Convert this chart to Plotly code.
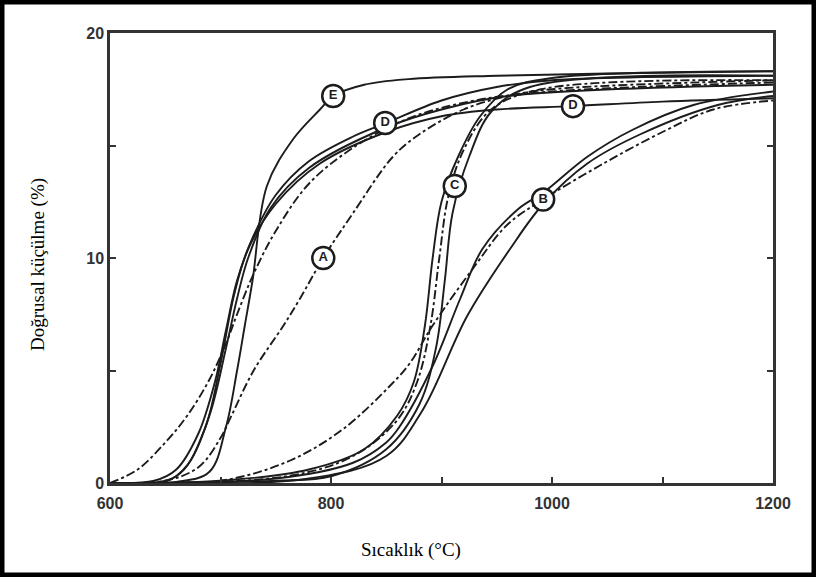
import plotly.graph_objects as go

# ---- data (temperature °C, linear shrinkage %) ----
E_T = [600, 660, 690, 705, 715, 722, 729, 742, 766, 790, 802, 830, 870, 950, 1050, 1200]
E_y = [0, 0.05, 0.5, 2.5, 5.0, 7.0, 9.0, 13.2, 15.3, 16.6, 17.2, 17.7, 17.95, 18.1, 18.2, 18.3]

D1_T = [600, 640, 660, 680, 695, 705, 715, 730, 750, 780, 820, 850, 900, 950, 1000, 1200]
D1_y = [0, 0.1, 0.6, 2.2, 4.5, 6.8, 9.0, 11.0, 12.8, 14.3, 15.4, 16.0, 17.0, 17.6, 17.9, 18.1]
D2_T = [600, 650, 670, 690, 705, 715, 725, 745, 780, 850, 900, 960, 1200]
D2_y = [0, 0.05, 0.8, 3.0, 6.0, 8.2, 10.0, 12.2, 14.0, 15.8, 16.6, 17.2, 17.7]
D3_T = [600, 660, 685, 700, 712, 725, 750, 790, 850, 900, 950, 1019, 1100, 1200]
D3_y = [0, 0.3, 2.3, 5.3, 8.3, 10.4, 12.4, 14.2, 15.6, 16.3, 16.6, 16.75, 16.95, 17.1]

A0_T = [600, 625, 650, 670, 690, 705, 715, 730, 750, 780, 820, 870, 930, 1000, 1200]
A0_y = [0, 0.6, 1.8, 3.0, 4.6, 6.2, 7.5, 9.3, 11.2, 13.3, 14.9, 16.2, 17.0, 17.4, 17.8]
A_T = [600, 650, 680, 700, 710, 730, 757, 772, 793, 820, 856, 880, 920, 960, 1000, 1200]
A_y = [0, 0.1, 0.7, 2.0, 3.0, 5.0, 7.0, 8.2, 10.0, 12.0, 14.5, 15.5, 16.6, 17.2, 17.5, 17.9]

C1_T = [600, 700, 780, 830, 860, 875, 885, 892, 900, 915, 935, 960, 1000, 1200]
C1_y = [0, 0.1, 0.6, 1.5, 3.0, 4.5, 7.0, 10.0, 12.5, 14.5, 16.3, 17.5, 18.0, 18.3]
C2_T = [600, 750, 800, 850, 880, 895, 903, 910, 925, 945, 980, 1200]
C2_y = [0, 0.1, 0.3, 1.5, 3.5, 6.0, 9.0, 12.0, 14.5, 16.5, 17.6, 18.1]
C3_T = [600, 760, 820, 860, 878, 890, 898, 906, 920, 945, 990, 1200]
C3_y = [0, 0.3, 1.2, 2.8, 4.5, 7.0, 10.0, 12.7, 14.8, 16.6, 17.5, 17.9]

B1_T = [600, 750, 820, 850, 862, 892, 917, 937, 970, 992, 1032, 1073, 1128, 1200]
B1_y = [0, 0.2, 0.9, 1.8, 2.5, 5.2, 8.2, 10.4, 12.2, 12.9, 14.5, 15.7, 16.8, 17.4]
B2_T = [600, 780, 850, 883, 923, 962, 992, 1032, 1080, 1150, 1200]
B2_y = [0, 0.2, 1.2, 3.25, 7.4, 10.4, 12.4, 14.2, 15.5, 16.8, 17.2]
B3_T = [600, 700, 763, 811, 853, 871, 892, 928, 960, 992, 1043, 1100, 1146, 1200]
B3_y = [0, 0.1, 1.0, 2.4, 4.3, 5.3, 7.0, 9.5, 11.5, 12.6, 14.1, 15.6, 16.6, 17.0]

label_text = ["E", "D", "A", "C", "B", "D"]
label_T = [802, 849, 793, 912, 992, 1019]
label_y = [17.2, 16.0, 10.0, 13.2, 12.6, 16.75]

x_tickvals = [600, 700, 800, 900, 1000, 1100, 1200]
x_ticktext = ["600", "", "800", "", "1000", "", "1200"]
y_tickvals = [0, 5, 10, 15, 20]
y_ticktext = ["0", "", "10", "", "20"]

INK = "#1c1c1c"
DASH = "9px,3px,3px,3px"

curves = [
    (E_T, E_y, "solid"), (D1_T, D1_y, "solid"), (D2_T, D2_y, "solid"),
    (D3_T, D3_y, "solid"), (A0_T, A0_y, DASH), (A_T, A_y, DASH),
    (C1_T, C1_y, "solid"), (C2_T, C2_y, "solid"), (C3_T, C3_y, DASH),
    (B1_T, B1_y, "solid"), (B2_T, B2_y, "solid"), (B3_T, B3_y, DASH),
]

fig = go.Figure()
for xs, ys, dash in curves:
    fig.add_trace(go.Scatter(
        x=xs, y=ys, mode="lines",
        line=dict(color=INK, width=1.9, dash=dash, shape="spline", smoothing=1.0),
        showlegend=False, hoverinfo="skip"))

fig.add_trace(go.Scatter(
    x=label_T, y=label_y, mode="markers+text", text=label_text,
    textposition="middle center",
    textfont=dict(family="Liberation Sans", size=13, color=INK, weight="bold"),
    marker=dict(symbol="circle", size=22, color="white",
                line=dict(color=INK, width=2.5)),
    showlegend=False, hoverinfo="skip"))

fig.update_layout(
    width=816, height=577,
    margin=dict(l=110, r=43, t=33, b=94),
    paper_bgcolor="white", plot_bgcolor="white",
    xaxis=dict(range=[600, 1200], tickvals=x_tickvals, ticktext=x_ticktext,
               ticks="inside", ticklen=6, tickwidth=2, tickcolor="#333",
               showline=True, linecolor="#333", linewidth=2.5, mirror=True,
               showgrid=False, zeroline=False, ticklabelstandoff=4,
               tickfont=dict(family="Liberation Sans", size=16, color="#333", weight="bold")),
    yaxis=dict(range=[0, 20], tickvals=y_tickvals, ticktext=y_ticktext,
               ticks="inside", ticklen=6, tickwidth=2, tickcolor="#333",
               showline=True, linecolor="#333", linewidth=2.5, mirror="ticks",
               showgrid=False, zeroline=False,
               tickfont=dict(family="Liberation Sans", size=16, color="#333", weight="bold")),
    shapes=[dict(type="rect", xref="paper", yref="paper",
                 x0=-108 / 663, x1=704 / 663, y0=-92 / 450, y1=481 / 450,
                 line=dict(color="black", width=5), fillcolor="rgba(0,0,0,0)")],
    annotations=[
        dict(text="Sıcaklık (°C)", xref="paper", yref="paper",
             x=(411 - 110) / 663, y=-(550 - 483) / 450, showarrow=False,
             xanchor="center", yanchor="middle",
             font=dict(family="Liberation Serif", size=19, color="black")),
        dict(text="Doğrusal küçülme (%)", xref="paper", yref="paper",
             x=-(110 - 38) / 663, y=(483 - 265) / 450, showarrow=False,
             textangle=-90, xanchor="center", yanchor="middle",
             font=dict(family="Liberation Serif", size=19, color="black")),
    ],
)

fig.write_html("out.html", config={"displayModeBar": False},
               post_script="document.body.style.margin='0';document.body.style.overflow='hidden';")
